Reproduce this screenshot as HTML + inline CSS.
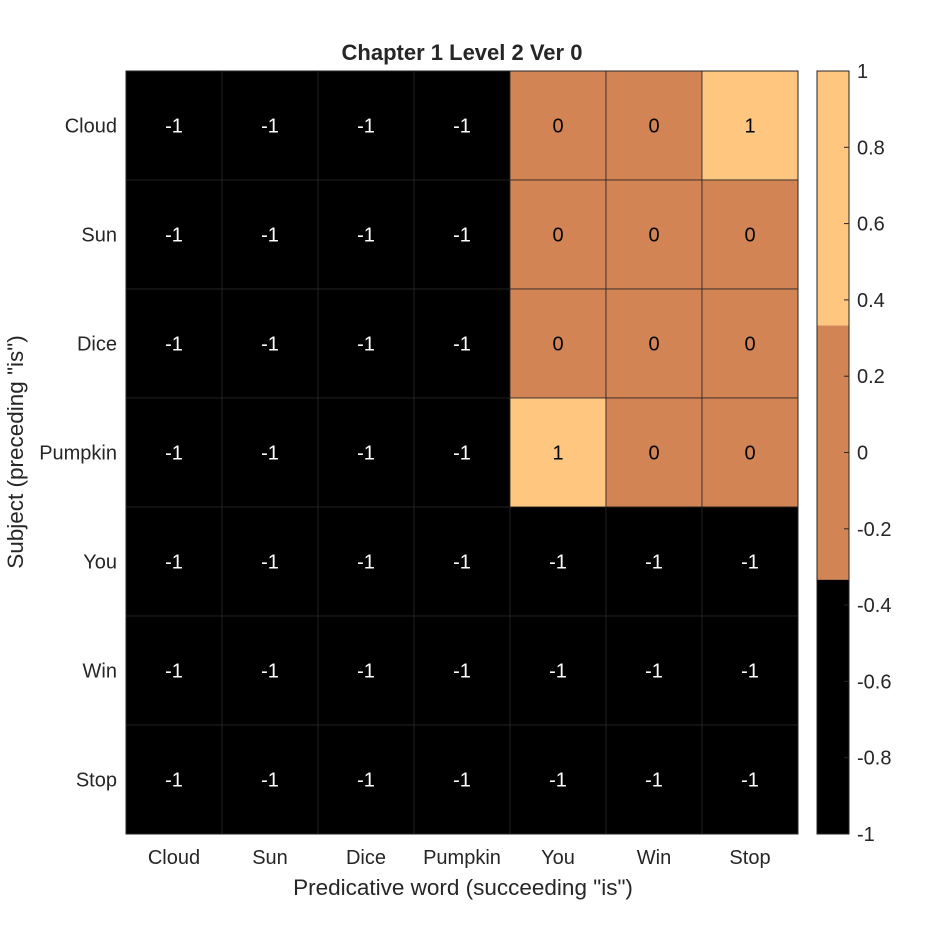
<!DOCTYPE html>
<html><head><meta charset="utf-8"><style>
body{margin:0;background:#fff}
text{font-family:"Liberation Sans",Arial,sans-serif}
</style></head><body>
<svg id="chart" width="938" height="938" xmlns="http://www.w3.org/2000/svg">
<rect width="938" height="938" fill="#fff"/>
<text x="462" y="60" text-anchor="middle" font-size="22" font-weight="bold" fill="#262626">Chapter 1 Level 2 Ver 0</text>
<g id="cells"></g>
<g id="xlabels"></g>
<g id="ylabels"></g>
<g id="cbar"></g>
<text x="463" y="895" text-anchor="middle" font-size="22.5" fill="#262626">Predicative word (succeeding "is")</text>
<text transform="translate(23,452) rotate(-90)" text-anchor="middle" font-size="22.5" fill="#262626">Subject (preceding "is")</text>
</svg>
<script>
const xCategories=["Cloud","Sun","Dice","Pumpkin","You","Win","Stop"];
const yCategories=["Cloud","Sun","Dice","Pumpkin","You","Win","Stop"];
const values=[
[-1,-1,-1,-1,0,0,1],
[-1,-1,-1,-1,0,0,0],
[-1,-1,-1,-1,0,0,0],
[-1,-1,-1,-1,1,0,0],
[-1,-1,-1,-1,-1,-1,-1],
[-1,-1,-1,-1,-1,-1,-1],
[-1,-1,-1,-1,-1,-1,-1]];
const cbarTicks=[-1,-0.8,-0.6,-0.4,-0.2,0,0.2,0.4,0.6,0.8,1];
const NS="http://www.w3.org/2000/svg";
const L=126,R=798,T=71,B=834;
const FS=20;
const cw=(R-L)/xCategories.length, ch=(B-T)/yCategories.length;
const xPos=i=>L+i*cw, yPos=j=>T+j*ch;
function color(v){return v<-1/3?"#000000":(v<1/3?"#D38455":"#FFC67F");}
function mk(tag,attrs,parent,txt){const e=document.createElementNS(NS,tag);for(const k in attrs)e.setAttribute(k,attrs[k]);if(txt!==undefined)e.textContent=txt;parent.appendChild(e);return e;}
const cells=document.getElementById('cells');
values.forEach((row,j)=>row.forEach((v,i)=>{
 const r=mk('rect',{x:xPos(i),y:yPos(j),width:cw,height:ch,fill:color(v),stroke:"#262626","stroke-width":0.8},cells);
 
 
 const t=mk('text',{x:xPos(i)+cw/2,y:yPos(j)+ch/2+7,"text-anchor":"middle","font-size":FS,fill:v<-1/3?"#fff":"#000"},cells,String(v));
 
 
}));
mk('rect',{x:L,y:T,width:R-L,height:B-T,fill:"none",stroke:"#262626","stroke-width":1},cells);
const xl=document.getElementById('xlabels');
xCategories.forEach((c,i)=>{const t=mk('text',{x:xPos(i)+cw/2,y:864,"text-anchor":"middle","font-size":FS,fill:"#262626"},xl,c);
 
 });
const yl=document.getElementById('ylabels');
yCategories.forEach((c,j)=>{const t=mk('text',{x:117,y:yPos(j)+ch/2+7,"text-anchor":"end","font-size":FS,fill:"#262626"},yl,c);
 
 });
const cb=document.getElementById('cbar');
const CL=817,CR=849;
const cy=v=>B-(v+1)/2*(B-T);
[[-1,-1/3],[-1/3,1/3],[1/3,1]].forEach(([a,b])=>{const r=mk('rect',{x:CL,y:cy(b),width:CR-CL,height:cy(a)-cy(b),fill:color((a+b)/2)},cb);
 
 });
mk('rect',{x:CL,y:T,width:CR-CL,height:B-T,fill:"none",stroke:"#262626","stroke-width":1},cb);
cbarTicks.forEach(v=>{const y=cy(v);
 mk('line',{x1:CR-5,x2:CR,y1:y,y2:y,stroke:"#262626"},cb);
 const t=mk('text',{x:857,y:y+7,"font-size":FS,fill:"#262626"},cb,String(Math.round(v*10)/10));
 
 });
</script>
</body></html>
